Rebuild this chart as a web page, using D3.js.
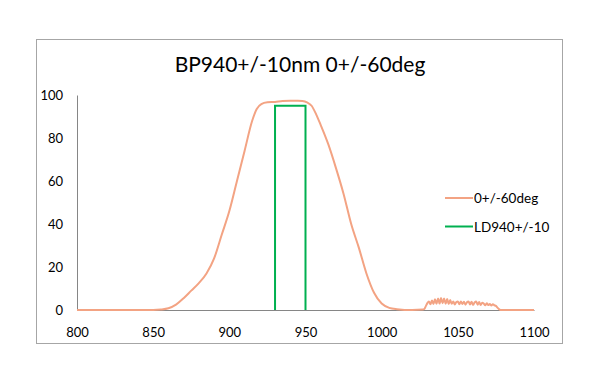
<!DOCTYPE html>
<html>
<head>
<meta charset="utf-8">
<script src="https://cdn.jsdelivr.net/npm/d3@7"></script>
<style>
  html, body { margin: 0; padding: 0; background: #fff; }
  svg { display: block; font-family: Lato, "Noto Sans", sans-serif; }
</style>
</head>
<body>
<div id="chart"></div>
<script>
// --- data ---
const titleText = "BP940+/-10nm 0+/-60deg";
const xTicks = [800, 850, 900, 950, 1000, 1050, 1100];
const yTicks = [0, 20, 40, 60, 80, 100];

// 0+/-60deg transmission curve
const bpWavelength = [
  800, 840, 850, 855, 860, 865, 870, 875, 880, 885, 890, 895, 900, 905, 910, 915,
  918, 921, 925, 930, 935, 940, 945, 948, 951, 954, 957, 960, 965, 970, 975, 980,
  985, 990, 995, 1000, 1005, 1010, 1020, 1027,
  1028, 1029, 1030, 1031, 1032, 1033, 1034, 1035, 1036, 1037, 1038, 1039, 1040,
  1041, 1042, 1043, 1044, 1045, 1046, 1047, 1048, 1049, 1050, 1051, 1052, 1053,
  1054, 1055, 1056, 1057, 1058, 1059, 1060, 1061, 1062, 1063, 1064, 1065, 1066,
  1067, 1068, 1069, 1070, 1071, 1072, 1073, 1074, 1075, 1076, 1077, 1078, 1100
];
const bpTransmission = [
  0, 0, 0, 0.2, 0.8, 2.5, 5.5, 9, 12.5, 17, 24, 35, 46, 60, 74, 88,
  93.5, 95.8, 96.6, 96.8, 97.2, 97.3, 97.3, 97.2, 96.6, 95, 91, 86, 77, 66, 54, 40,
  29, 17, 8, 3, 1, 0.4, 0, 0.2,
  0.5, 1.8, 3.2, 4.0, 2.7, 4.4, 2.8, 5.0, 2.9, 5.4, 3.0, 5.6, 3.1,
  5.4, 2.9, 5.1, 2.8, 4.6, 2.9, 4.0, 2.6, 3.7, 3.9, 2.7, 4.0, 2.8,
  3.8, 2.5, 3.6, 4.0, 2.6, 3.8, 2.4, 3.5, 4.0, 2.5, 3.7, 2.3, 3.4,
  3.0, 2.2, 3.1, 2.3, 2.8, 2.1, 2.7, 2.2, 1.9, 1.1, 0.4, 0, 0
];

// LD940+/-10 box
const ldWavelength = [930, 930, 950, 950];
const ldValue = [0, 95, 95, 0];

const seriesNames = ["0+/-60deg", "LD940+/-10"];
const seriesColors = ["#F3A383", "#00B050"];

// --- layout ---
const width = 600, height = 383;
const frame = { x: 36.5, y: 39.5, w: 526, h: 304 };
const plot = { left: 77, right: 534, top: 95, bottom: 310 };

const svg = d3.select("#chart").append("svg")
  .attr("width", width)
  .attr("height", height);

svg.append("rect")
  .attr("x", frame.x).attr("y", frame.y)
  .attr("width", frame.w).attr("height", frame.h)
  .attr("fill", "#fff")
  .attr("stroke", "#a6a6a6")
  .attr("stroke-width", 1);

svg.append("text")
  .attr("x", 300).attr("y", 72)
  .attr("text-anchor", "middle")
  .attr("font-size", 21)
  .attr("fill", "#000")
  .text(titleText);

const x = d3.scaleLinear().domain([800, 1100]).range([plot.left, plot.right]);
const y = d3.scaleLinear().domain([0, 100]).range([plot.bottom, plot.top]);

// axes (no tick marks, just the lines and labels)
const xAxis = svg.append("g")
  .attr("transform", `translate(0,${plot.bottom})`)
  .call(d3.axisBottom(x).tickValues(xTicks).tickSize(0).tickPadding(18).tickFormat(d3.format("d")));
const yAxis = svg.append("g")
  .attr("transform", `translate(${plot.left},0)`)
  .call(d3.axisLeft(y).tickValues(yTicks).tickSize(0).tickPadding(14).tickFormat(d3.format("d")));

[xAxis, yAxis].forEach(a => {
  a.select(".domain").attr("stroke", "#868686").attr("stroke-width", 1);
  a.selectAll("text")
    .attr("font-family", "Lato, 'Noto Sans', sans-serif")
    .attr("font-size", 13)
    .attr("fill", "#000");
});

const bpData = bpWavelength.map((w, i) => [w, bpTransmission[i]]);
const ldData = ldWavelength.map((w, i) => [w, ldValue[i]]);

svg.append("path")
  .datum(bpData)
  .attr("d", d3.line().x(d => x(d[0])).y(d => y(d[1])).curve(d3.curveMonotoneX))
  .attr("fill", "none")
  .attr("stroke", seriesColors[0])
  .attr("stroke-width", 2)
  .attr("stroke-linejoin", "round");

svg.append("path")
  .datum(ldData)
  .attr("d", d3.line().x(d => x(d[0])).y(d => y(d[1])))
  .attr("fill", "none")
  .attr("stroke", seriesColors[1])
  .attr("stroke-width", 2);

// legend
const legend = svg.append("g").attr("transform", "translate(445,198)");
const item = legend.selectAll("g")
  .data(seriesNames)
  .enter().append("g")
  .attr("transform", (d, i) => `translate(0,${i * 28.5})`);
item.append("line")
  .attr("x1", 0).attr("x2", 28)
  .attr("y1", 0).attr("y2", 0)
  .attr("stroke", (d, i) => seriesColors[i])
  .attr("stroke-width", 2);
item.append("text")
  .attr("x", 29).attr("y", 5)
  .attr("font-size", 13.5)
  .attr("fill", "#000")
  .text(d => d);
</script>
</body>
</html>
